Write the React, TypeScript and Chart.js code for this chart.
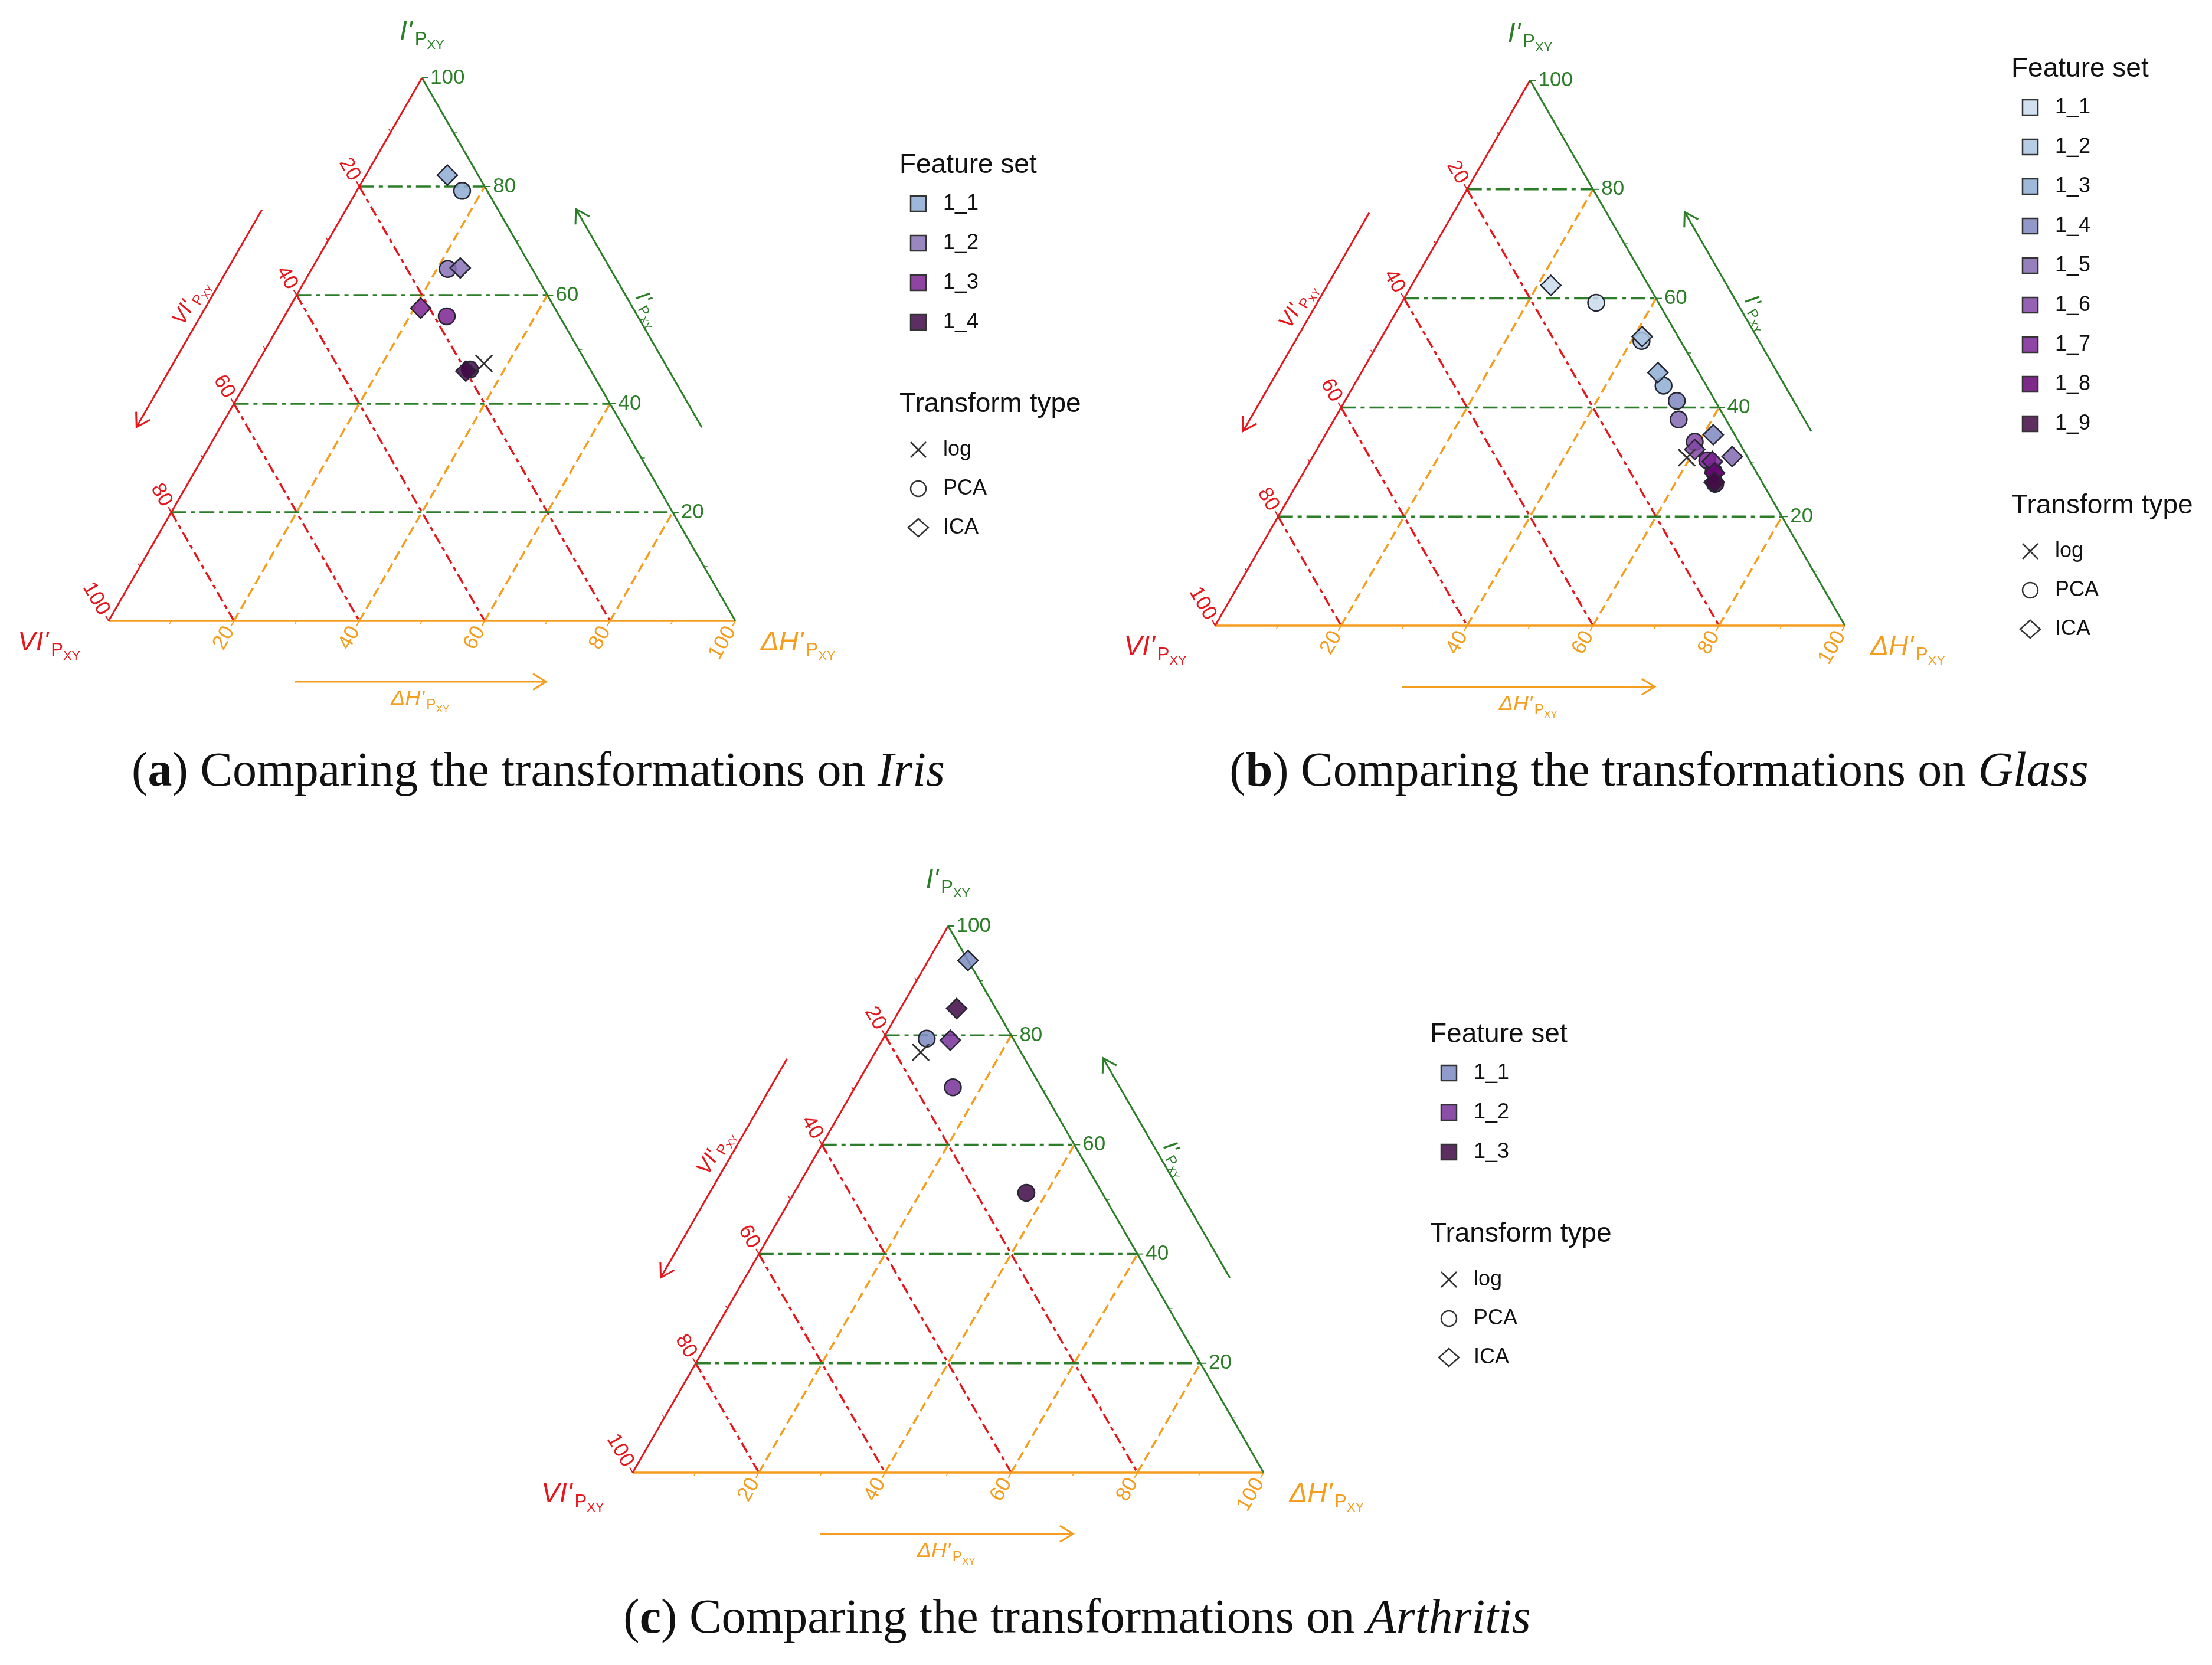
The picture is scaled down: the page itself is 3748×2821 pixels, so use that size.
import React, { useEffect, useRef } from "react";
import { Chart, registerables } from "chart.js";
Chart.register(...registerables);

// ---------------- DATA ----------------
const GRID_TICKS = [20, 40, 60, 80];
const LABEL_TICKS = [20, 40, 60, 80, 100];
const MINOR_TICKS = [10, 30, 50, 70, 90];

// Iris (a) – values as [I', dH', VI'] percentages
const irisSets = ["1_1", "1_2", "1_3", "1_4"];
const irisPcaI = [79.2, 64.8, 56.1, 46.3];
const irisPcaDH = [16.8, 21.7, 25.9, 34.5];
const irisPcaVI = [4.0, 13.5, 18.0, 19.2];
const irisIcaI = [82.1, 65.0, 57.6, 46.0];
const irisIcaDH = [13.0, 23.6, 21.0, 34.0];
const irisIcaVI = [4.9, 11.4, 21.4, 20.0];
const irisLog = [47.4, 36.2, 16.4];

// Glass (b)
const glassSets = ["1_1", "1_2", "1_3", "1_4", "1_5", "1_6", "1_7", "1_8", "1_9"];
const glassPcaI = [59.2, 52.2, 44.0, 41.2, 37.8, 33.7, 30.3, 28.3, 26.0];
const glassPcaDH = [30.9, 41.6, 49.2, 52.7, 54.7, 59.3, 63.0, 65.0, 66.4];
const glassPcaVI = [9.9, 6.2, 6.8, 6.1, 7.5, 7.0, 6.7, 6.7, 7.6];
const glassIcaI = [62.4, 53.0, 46.4, 35.0, 31.0, 32.3, 30.1, 28.0, 26.3];
const glassIcaDH = [22.1, 41.3, 47.1, 61.6, 66.6, 60.0, 63.9, 65.3, 66.1];
const glassIcaVI = [15.5, 5.7, 6.5, 3.4, 2.4, 7.7, 6.0, 6.7, 7.6];
const glassLog = [30.8, 59.5, 9.7];

// Arthritis (c)
const arthSets = ["1_1", "1_2", "1_3"];
const arthPcaI = [79.4, 70.5, 51.2];
const arthPcaDH = [6.9, 15.5, 36.8];
const arthPcaVI = [13.7, 14.0, 12.0];
const arthIcaI = [93.7, 79.1, 84.9];
const arthIcaDH = [6.3, 10.8, 8.9];
const arthIcaVI = [0.0, 10.1, 6.2];
const arthLog = [76.9, 7.2, 15.9];

// ---------------- STYLE ----------------
const irisColors = ["rgba(142,170,210,0.85)", "rgba(136,113,181,0.85)", "rgba(122,35,143,0.85)", "rgba(64,9,71,0.85)"];
const glassColors = [
  "rgba(200,219,236,0.85)", "rgba(170,196,225,0.85)", "rgba(142,173,211,0.85)",
  "rgba(124,135,190,0.85)", "rgba(130,106,177,0.85)", "rgba(130,71,166,0.85)",
  "rgba(123,37,147,0.85)", "rgba(103,4,116,0.85)", "rgba(66,9,68,0.85)",
];
const arthColors = ["rgba(123,139,194,0.85)", "rgba(119,48,153,0.85)", "rgba(63,8,69,0.85)"];

const GREEN = "#2b7d27";
const RED = "#e5161c";
const ORANGE = "#f49d1e";
const SANS = '"Liberation Sans", Arial, Helvetica, sans-serif';
const SQ = Math.sqrt(3) / 2;

function toXY(I: number, D: number, V: number) {
  const s = I + D + V;
  const i = (I / s) * 100;
  const d = (D / s) * 100;
  return { x: d + i / 2, y: i * SQ };
}

function subLabel(ctx: CanvasRenderingContext2D, x: number, y: number, angle: number, main: string, color: string, k: number) {
  const ms = 46 * k, ps = 31 * k, xs = 22 * k;
  ctx.save();
  ctx.translate(x, y);
  ctx.rotate(angle);
  ctx.fillStyle = color;
  ctx.textAlign = "left";
  ctx.textBaseline = "alphabetic";
  ctx.font = `italic ${ms}px ${SANS}`;
  const w1 = ctx.measureText(main).width;
  ctx.font = `${ps}px ${SANS}`;
  const w2 = ctx.measureText("P").width;
  ctx.font = `${xs}px ${SANS}`;
  const w3 = ctx.measureText("XY").width;
  const gap = 4 * k;
  const tot = w1 + gap + w2 + w3;
  let cx = -tot / 2;
  const b = 0.3 * ms;
  ctx.font = `italic ${ms}px ${SANS}`;
  ctx.fillText(main, cx, b);
  cx += w1 + gap;
  ctx.font = `${ps}px ${SANS}`;
  ctx.fillText("P", cx, b + 9 * k);
  cx += w2;
  ctx.font = `${xs}px ${SANS}`;
  ctx.fillText("XY", cx, b + 16 * k);
  ctx.restore();
}

function arrow(ctx: CanvasRenderingContext2D, x1: number, y1: number, x2: number, y2: number, color: string) {
  ctx.save();
  ctx.strokeStyle = color;
  ctx.lineWidth = 3;
  ctx.beginPath();
  ctx.moveTo(x1, y1);
  ctx.lineTo(x2, y2);
  const a = Math.atan2(y2 - y1, x2 - x1);
  const hl = 26;
  ctx.moveTo(x2 + hl * Math.cos(a + Math.PI - 0.55), y2 + hl * Math.sin(a + Math.PI - 0.55));
  ctx.lineTo(x2, y2);
  ctx.lineTo(x2 + hl * Math.cos(a + Math.PI + 0.55), y2 + hl * Math.sin(a + Math.PI + 0.55));
  ctx.stroke();
  ctx.restore();
}

type PanelCfg = {
  sets: string[];
  colors: string[];
  pca: number[][];
  ica: number[][];
  log: number[];
  left: number; top: number; width: number; height: number;
  pad: { left: number; top: number; right: number; bottom: number };
  legend: { x: number; y: number };
};

function makeDecor(cfg: PanelCfg) {
  return {
    id: "ternDecor",
    afterDraw(chart: any) {
      const ctx: CanvasRenderingContext2D = chart.ctx;
      const xs = chart.scales.x, ys = chart.scales.y;
      const P = (I: number, D: number, V: number): [number, number] => {
        const t = toXY(I, D, V);
        return [xs.getPixelForValue(t.x), ys.getPixelForValue(t.y)];
      };
      const L = P(0, 0, 100), R = P(0, 100, 0), A = P(100, 0, 0);
      const S = R[0] - L[0];

      const drawTicks = (color: string, pt: (v: number) => [number, number], dir: [number, number], angle: number) => {
        ctx.save();
        ctx.strokeStyle = color;
        ctx.fillStyle = color;
        ctx.lineWidth = 2;
        ctx.font = `35px ${SANS}`;
        ctx.textBaseline = "middle";
        for (const v of LABEL_TICKS) {
          const p = pt(v);
          ctx.beginPath();
          ctx.moveTo(p[0], p[1]);
          ctx.lineTo(p[0] + dir[0] * 10, p[1] + dir[1] * 10);
          ctx.stroke();
          ctx.save();
          ctx.translate(p[0] + dir[0] * 14, p[1] + dir[1] * 14);
          ctx.rotate(angle);
          ctx.textAlign = angle === 0 ? "left" : "right";
          ctx.fillText(String(v), 0, 0);
          ctx.restore();
        }
        ctx.lineWidth = 1.5;
        for (const v of MINOR_TICKS) {
          const p = pt(v);
          ctx.beginPath();
          ctx.moveTo(p[0], p[1]);
          ctx.lineTo(p[0] + dir[0] * 6, p[1] + dir[1] * 6);
          ctx.stroke();
        }
        ctx.restore();
      };
      drawTicks(GREEN, (v) => P(v, 100 - v, 0), [1, 0], 0);
      drawTicks(RED, (v) => P(100 - v, 0, v), [-0.5, -SQ], Math.PI / 3);
      drawTicks(ORANGE, (v) => P(0, v, 100 - v), [-0.5, SQ], -Math.PI / 3);

      const along = (a: [number, number], b: [number, number], t: number, n: [number, number], off: number): [number, number] =>
        [a[0] + (b[0] - a[0]) * t + n[0] * off * S, a[1] + (b[1] - a[1]) * t + n[1] * off * S];
      const nL: [number, number] = [-SQ, -0.5];
      const nR: [number, number] = [SQ, -0.5];
      const nB: [number, number] = [0, 1];
      let p1 = along(L, A, 0.69, nL, 0.116), p2 = along(L, A, 0.29, nL, 0.116);
      arrow(ctx, p1[0], p1[1], p2[0], p2[1], RED);
      let q = along(L, A, 0.505, nL, 0.142);
      subLabel(ctx, q[0], q[1], -Math.PI / 3, "VI'", RED, 0.78);

      p1 = along(R, A, 0.294, nR, 0.108); p2 = along(R, A, 0.696, nR, 0.108);
      arrow(ctx, p1[0], p1[1], p2[0], p2[1], GREEN);
      q = along(R, A, 0.5, nR, 0.13);
      subLabel(ctx, q[0], q[1], Math.PI / 3, "I'", GREEN, 0.78);

      p1 = along(L, R, 0.297, nB, 0.097); p2 = along(L, R, 0.698, nB, 0.097);
      arrow(ctx, p1[0], p1[1], p2[0], p2[1], ORANGE);
      q = along(L, R, 0.497, nB, 0.124);
      subLabel(ctx, q[0], q[1], 0, "ΔH'", ORANGE, 0.78);

      subLabel(ctx, A[0], A[1] - 0.074 * S, 0, "I'", GREEN, 1);
      subLabel(ctx, L[0] - 0.095 * S, L[1] + 0.034 * S, 0, "VI'", RED, 1);
      subLabel(ctx, R[0] + 0.1 * S, R[1] + 0.034 * S, 0, "ΔH'", ORANGE, 1);

      // legend
      const lx = cfg.legend.x, ly = cfg.legend.y;
      ctx.save();
      ctx.fillStyle = "#111";
      ctx.textAlign = "left";
      ctx.textBaseline = "middle";
      ctx.font = `46px ${SANS}`;
      ctx.fillText("Feature set", lx, ly);
      const y = ly + 65;
      cfg.sets.forEach((s, i) => {
        const yy = y + i * 67;
        ctx.fillStyle = cfg.colors[i];
        ctx.fillRect(lx + 19, yy - 13, 26, 26);
        ctx.strokeStyle = "#333";
        ctx.lineWidth = 2.5;
        ctx.strokeRect(lx + 19, yy - 13, 26, 26);
        ctx.fillStyle = "#111";
        ctx.font = `36px ${SANS}`;
        ctx.fillText(s, lx + 74, yy);
      });
      const ty = y + (cfg.sets.length - 1) * 67 + 139;
      ctx.font = `46px ${SANS}`;
      ctx.fillText("Transform type", lx, ty);
      const names = ["log", "PCA", "ICA"];
      names.forEach((nm, j) => {
        const yy = ty + 77 + j * 66;
        const cx = lx + 32;
        ctx.strokeStyle = "#333";
        ctx.lineWidth = 2.5;
        ctx.beginPath();
        if (j === 0) {
          ctx.moveTo(cx - 13, yy - 13); ctx.lineTo(cx + 13, yy + 13);
          ctx.moveTo(cx + 13, yy - 13); ctx.lineTo(cx - 13, yy + 13);
        } else if (j === 1) {
          ctx.arc(cx, yy, 13, 0, Math.PI * 2);
        } else {
          ctx.moveTo(cx - 17, yy); ctx.lineTo(cx, yy - 15); ctx.lineTo(cx + 17, yy); ctx.lineTo(cx, yy + 15); ctx.closePath();
        }
        ctx.stroke();
        ctx.fillStyle = "#111";
        ctx.font = `36px ${SANS}`;
        ctx.fillText(nm, lx + 74, yy);
      });
      ctx.restore();
    },
  };
}

function seg(a: number[], b: number[]) {
  return [toXY(a[0], a[1], a[2]), toXY(b[0], b[1], b[2])];
}

function buildDatasets(cfg: PanelCfg) {
  const ds: any[] = [];
  const lineDs = (data: any[], color: string, dash: number[], width: number, order: number) => ({
    type: "scatter", data, showLine: true, borderColor: color, borderWidth: width, borderDash: dash,
    pointRadius: 0, pointHoverRadius: 0, fill: false, tension: 0, clip: false, order,
  });
  for (const v of GRID_TICKS) {
    ds.push(lineDs(seg([v, 0, 100 - v], [v, 100 - v, 0]), GREEN, [25, 8, 7, 8], 3.5, 20));
    ds.push(lineDs(seg([100 - v, 0, v], [0, 100 - v, v]), RED, [18, 7, 7, 7], 3.5, 20));
    ds.push(lineDs(seg([0, v, 100 - v], [100 - v, v, 0]), ORANGE, [16, 8], 3.5, 20));
  }
  ds.push(lineDs(seg([100, 0, 0], [0, 0, 100]), RED, [], 3, 10));
  ds.push(lineDs(seg([100, 0, 0], [0, 100, 0]), GREEN, [], 3, 10));
  ds.push(lineDs(seg([0, 0, 100], [0, 100, 0]), ORANGE, [], 3.5, 10));

  const pts = (arr: number[][]) => arr[0].map((_, i) => toXY(arr[0][i], arr[1][i], arr[2][i]));
  ds.push({
    type: "scatter", label: "PCA", data: pts(cfg.pca), pointStyle: "circle", pointRadius: 14,
    backgroundColor: cfg.colors.slice(0, cfg.pca[0].length), borderColor: "#262633", borderWidth: 2.5, clip: false, order: 3,
  });
  ds.push({
    type: "scatter", label: "ICA", data: pts(cfg.ica), pointStyle: "rectRot", pointRadius: 17,
    backgroundColor: cfg.colors.slice(0, cfg.ica[0].length), borderColor: "#262633", borderWidth: 2.5, clip: false, order: 2,
  });
  ds.push({
    type: "scatter", label: "log", data: [toXY(cfg.log[0], cfg.log[1], cfg.log[2])], pointStyle: "crossRot", pointRadius: 20,
    borderColor: "#333", borderWidth: 3, backgroundColor: "#333", clip: false, order: 1,
  });
  return ds;
}

function Panel({ cfg }: { cfg: PanelCfg }) {
  const ref = useRef<HTMLCanvasElement | null>(null);
  useEffect(() => {
    if (!ref.current) return;
    const chart = new Chart(ref.current, {
      type: "scatter",
      data: { datasets: buildDatasets(cfg) },
      options: {
        animation: false,
        responsive: false,
        devicePixelRatio: 1,
        events: [],
        layout: { padding: cfg.pad },
        plugins: { legend: { display: false }, tooltip: { enabled: false } },
        scales: {
          x: { type: "linear", min: 0, max: 100, display: false },
          y: { type: "linear", min: 0, max: 100 * SQ, display: false },
        },
      } as any,
      plugins: [makeDecor(cfg)],
    } as any);
    return () => chart.destroy();
  }, [cfg]);
  return (
    <canvas
      ref={ref}
      width={cfg.width}
      height={cfg.height}
      style={{ position: "absolute", left: cfg.left, top: cfg.top, width: cfg.width, height: cfg.height }}
    />
  );
}

const panelA: PanelCfg = {
  sets: irisSets, colors: irisColors,
  pca: [irisPcaI, irisPcaDH, irisPcaVI], ica: [irisIcaI, irisIcaDH, irisIcaVI], log: irisLog,
  left: 0, top: 0, width: 1880, height: 1240,
  pad: { left: 184, top: 132, right: 1880 - 1246, bottom: 1240 - 1052 },
  legend: { x: 1524, y: 280 },
};
const panelB: PanelCfg = {
  sets: glassSets, colors: glassColors,
  pca: [glassPcaI, glassPcaDH, glassPcaVI], ica: [glassIcaI, glassIcaDH, glassIcaVI], log: glassLog,
  left: 1880, top: 0, width: 1868, height: 1240,
  pad: { left: 179, top: 136, right: 1868 - 179 - 1067, bottom: 1240 - 1060 },
  legend: { x: 1528, y: 117 },
};
const panelC: PanelCfg = {
  sets: arthSets, colors: arthColors,
  pca: [arthPcaI, arthPcaDH, arthPcaVI], ica: [arthIcaI, arthIcaDH, arthIcaVI], log: arthLog,
  left: 700, top: 1400, width: 2100, height: 1260,
  pad: { left: 372, top: 169, right: 2100 - 372 - 1069, bottom: 1260 - 1095 },
  legend: { x: 1723, y: 353 },
};

const capStyle = (cx: number, cy: number): React.CSSProperties => ({
  position: "absolute", left: cx - 1200, top: cy - 50, width: 2400, height: 100,
  lineHeight: "100px", textAlign: "center", fontFamily: '"Liberation Serif", "Times New Roman", serif',
  fontSize: 82, color: "#111", whiteSpace: "nowrap",
});

export default function App() {
  return (
    <div style={{ position: "absolute", left: 0, top: 0, width: 3748, height: 2821, background: "#fff", overflow: "hidden" }}>
      <Panel cfg={panelA} />
      <Panel cfg={panelB} />
      <Panel cfg={panelC} />
      <div style={capStyle(912, 1304)}>(<b>a</b>) Comparing the transformations on <i>Iris</i></div>
      <div style={capStyle(2811, 1304)}>(<b>b</b>) Comparing the transformations on <i>Glass</i></div>
      <div style={capStyle(1825, 2739)}>(<b>c</b>) Comparing the transformations on <i>Arthritis</i></div>
    </div>
  );
}
